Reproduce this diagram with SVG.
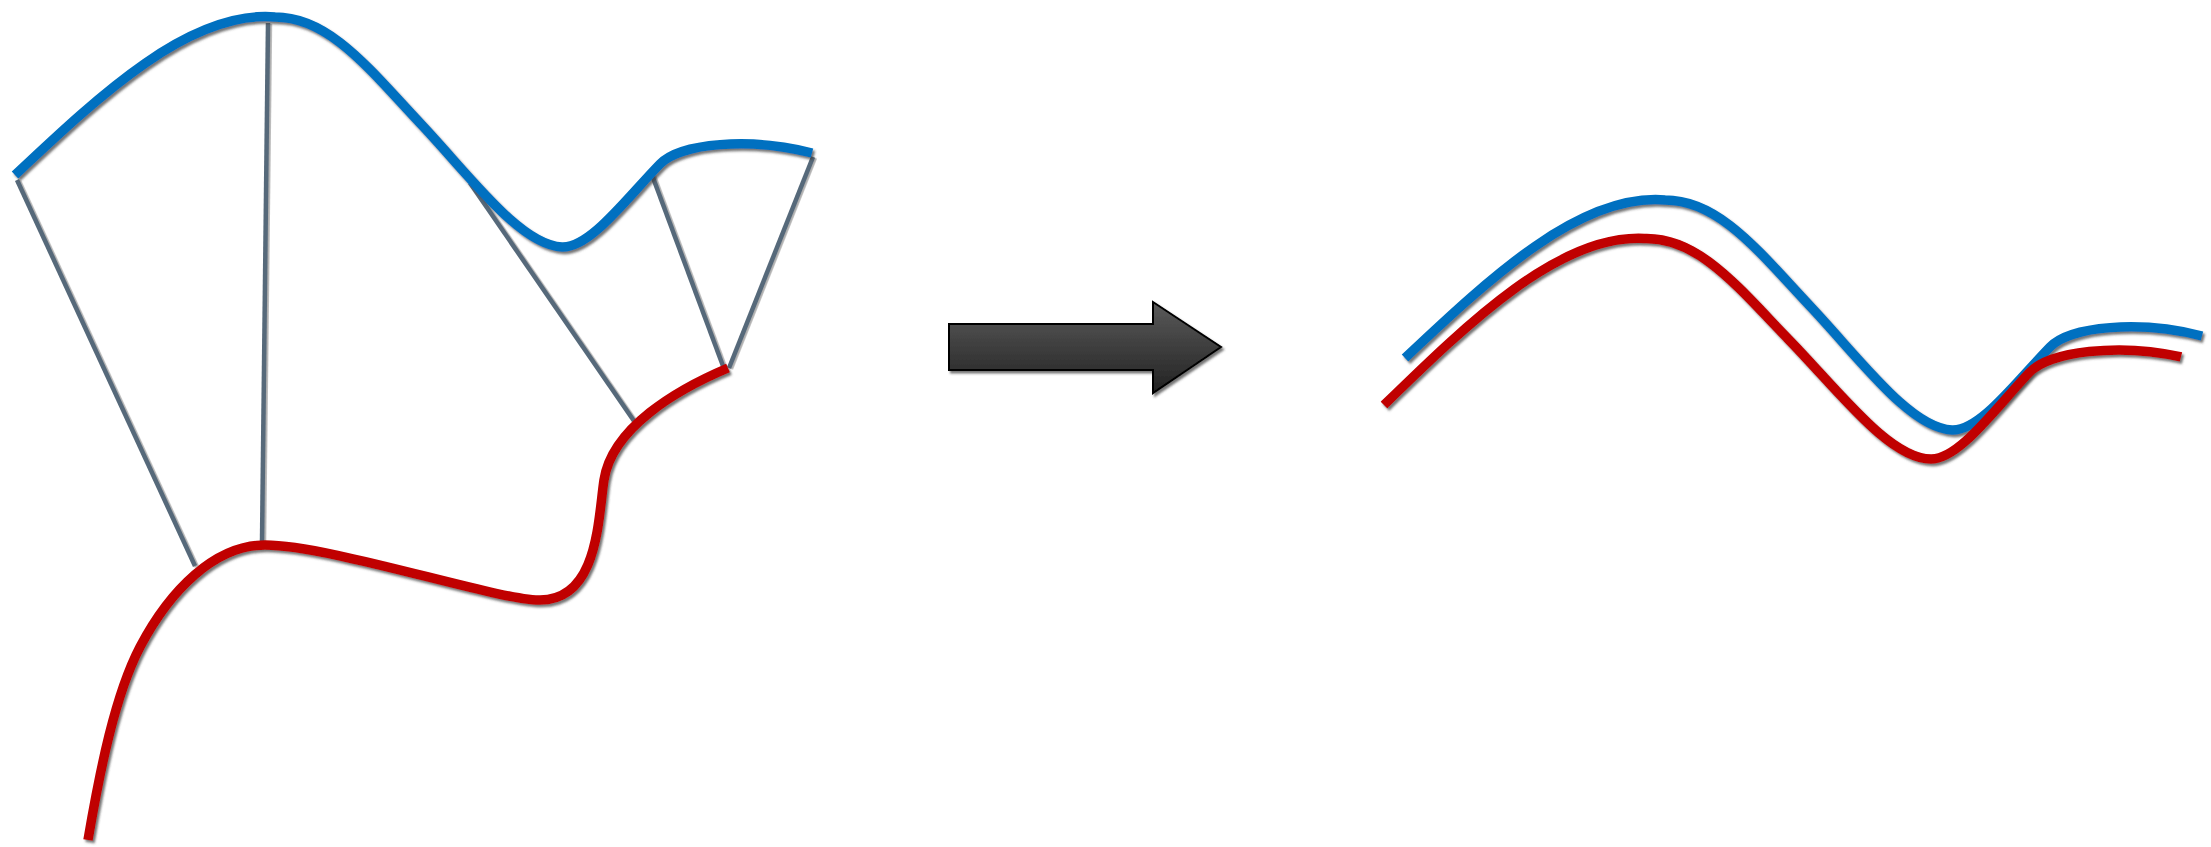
<svg xmlns="http://www.w3.org/2000/svg" width="2211" height="847" viewBox="0 0 2211 847">
  <defs>
    <filter id="sh" x="-10%" y="-10%" width="130%" height="130%">
      <feDropShadow dx="2" dy="2.5" stdDeviation="0.9" flood-color="#3a3a3a" flood-opacity="0.7"/>
    </filter>
    <filter id="shl" x="-10%" y="-10%" width="130%" height="130%">
      <feDropShadow dx="1.8" dy="0.8" stdDeviation="0.7" flood-color="#6a6a6a" flood-opacity="0.55"/>
    </filter>
    <linearGradient id="ag" x1="0" y1="0" x2="0" y2="1">
      <stop offset="0" stop-color="#5a5a5a"/>
      <stop offset="1" stop-color="#222222"/>
    </linearGradient>
    <path id="bluePath" d="M15,175 C100,95 190,10 275,17 C330,17 370,70 420,123 C470,176 520,245 562,247 C590,248 625,200 660,164 C680,143 750,137 812,153"/>
  </defs>
  <style>
    .blue { fill: none; stroke: #0070c0; stroke-width: 9.5; }
    .red { fill: none; stroke: #c00000; stroke-width: 9.5; }
    .gray { fill: none; stroke: #56697a; stroke-width: 4.5; }
  </style>
  <rect width="2211" height="847" fill="#ffffff"/>

  <g id="connectors" filter="url(#shl)">
    <line class="gray" x1="17" y1="180" x2="195" y2="566"/>
    <line class="gray" x1="268" y1="23" x2="262" y2="542"/>
    <line class="gray" x1="470" y1="183" x2="634" y2="421"/>
    <line class="gray" x1="652" y1="175" x2="723" y2="366"/>
    <line class="gray" x1="813" y1="157" x2="729" y2="368"/>
  </g>

  <g id="left-blue" filter="url(#sh)">
    <use href="#bluePath" class="blue"/>
  </g>

  <g id="left-red" filter="url(#sh)">
    <path class="red" d="M728,368 C676,390 612,428 604,480 C598,520 598,600 540,600 C500,601 330,545 265,545 C215,545 170,590 140,647 C115,695 100,770 88,840"/>
  </g>

  <g id="arrow" filter="url(#sh)">
    <polygon points="949,324 1153,324 1153,302 1221,347 1153,393 1153,370 949,370" fill="url(#ag)" stroke="#000000" stroke-width="2"/>
  </g>

  <g id="right-blue" filter="url(#sh)">
    <use href="#bluePath" class="blue" transform="translate(1390,183)"/>
  </g>

  <g id="right-red" filter="url(#sh)">
    <use href="#bluePath" class="red" transform="matrix(1,-0.0327,0,1,1369,230.5)"/>
  </g>
</svg>
